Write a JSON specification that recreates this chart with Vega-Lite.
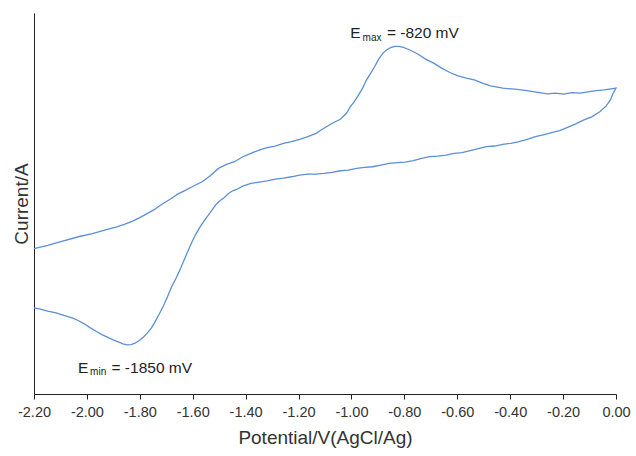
{
  "$schema": "https://vega.github.io/schema/vega-lite/v6.json",
  "width": 582,
  "height": 381,
  "autosize": {"type": "none"},
  "padding": {"left": 34, "top": 13, "right": 20, "bottom": 62},
  "background": "white",
  "config": {
    "view": {"stroke": null},
    "font": "Liberation Sans",
    "axis": {"grid": false, "domainColor": "#222222", "tickColor": "#222222", "labelColor": "#333333", "titleColor": "#333333", "titleFontWeight": "normal", "labelFont": "Liberation Sans", "titleFont": "Liberation Sans"}
  },
  "datasets": {
    "cv": [
      {"n": 1, "E": -2.200, "I": 43.5}, {"n": 2, "E": -2.148, "I": 44.5}, {"n": 3, "E": -2.102, "I": 45.5}, {"n": 4, "E": -2.025, "I": 47.2},
      {"n": 5, "E": -1.979, "I": 48.0}, {"n": 6, "E": -1.933, "I": 49.0}, {"n": 7, "E": -1.887, "I": 50.0}, {"n": 8, "E": -1.856, "I": 50.8},
      {"n": 9, "E": -1.825, "I": 51.8}, {"n": 10, "E": -1.795, "I": 53.0}, {"n": 11, "E": -1.749, "I": 55.0}, {"n": 12, "E": -1.718, "I": 56.7},
      {"n": 13, "E": -1.687, "I": 58.2}, {"n": 14, "E": -1.657, "I": 59.8}, {"n": 15, "E": -1.626, "I": 61.0}, {"n": 16, "E": -1.595, "I": 62.3},
      {"n": 17, "E": -1.564, "I": 63.5}, {"n": 18, "E": -1.534, "I": 65.3}, {"n": 19, "E": -1.503, "I": 67.5}, {"n": 20, "E": -1.472, "I": 68.7},
      {"n": 21, "E": -1.442, "I": 69.5}, {"n": 22, "E": -1.411, "I": 71.0}, {"n": 23, "E": -1.380, "I": 72.0}, {"n": 24, "E": -1.349, "I": 73.0},
      {"n": 25, "E": -1.319, "I": 73.7}, {"n": 26, "E": -1.288, "I": 74.2}, {"n": 27, "E": -1.257, "I": 75.0}, {"n": 28, "E": -1.227, "I": 75.5},
      {"n": 29, "E": -1.196, "I": 76.2}, {"n": 30, "E": -1.165, "I": 77.0}, {"n": 31, "E": -1.134, "I": 78.0}, {"n": 32, "E": -1.104, "I": 79.5},
      {"n": 33, "E": -1.073, "I": 81.0}, {"n": 34, "E": -1.042, "I": 82.2}, {"n": 35, "E": -1.019, "I": 84.0}, {"n": 36, "E": -1.004, "I": 86.0},
      {"n": 37, "E": -0.989, "I": 87.5}, {"n": 38, "E": -0.973, "I": 89.5}, {"n": 39, "E": -0.958, "I": 91.5}, {"n": 40, "E": -0.943, "I": 94.0},
      {"n": 41, "E": -0.927, "I": 96.0}, {"n": 42, "E": -0.912, "I": 98.0}, {"n": 43, "E": -0.897, "I": 100.2}, {"n": 44, "E": -0.881, "I": 102.0},
      {"n": 45, "E": -0.866, "I": 103.0}, {"n": 46, "E": -0.850, "I": 103.7}, {"n": 47, "E": -0.835, "I": 104.0}, {"n": 48, "E": -0.820, "I": 104.0},
      {"n": 49, "E": -0.804, "I": 103.7}, {"n": 50, "E": -0.781, "I": 103.0}, {"n": 51, "E": -0.751, "I": 101.8}, {"n": 52, "E": -0.720, "I": 100.2},
      {"n": 53, "E": -0.689, "I": 99.0}, {"n": 54, "E": -0.659, "I": 97.5}, {"n": 55, "E": -0.628, "I": 96.2}, {"n": 56, "E": -0.597, "I": 95.2},
      {"n": 57, "E": -0.566, "I": 94.5}, {"n": 58, "E": -0.536, "I": 94.0}, {"n": 59, "E": -0.505, "I": 93.0}, {"n": 60, "E": -0.474, "I": 92.2},
      {"n": 61, "E": -0.428, "I": 91.5}, {"n": 62, "E": -0.382, "I": 91.2}, {"n": 63, "E": -0.336, "I": 90.8}, {"n": 64, "E": -0.290, "I": 90.2},
      {"n": 65, "E": -0.259, "I": 89.8}, {"n": 66, "E": -0.229, "I": 90.0}, {"n": 67, "E": -0.198, "I": 89.7}, {"n": 68, "E": -0.167, "I": 90.2},
      {"n": 69, "E": -0.137, "I": 90.0}, {"n": 70, "E": -0.106, "I": 90.4}, {"n": 71, "E": -0.075, "I": 90.8}, {"n": 72, "E": -0.044, "I": 91.0},
      {"n": 73, "E": 0.000, "I": 91.5},
      {"n": 74, "E": -0.011, "I": 90.0}, {"n": 75, "E": -0.021, "I": 88.0}, {"n": 76, "E": -0.037, "I": 86.2}, {"n": 77, "E": -0.060, "I": 84.5},
      {"n": 78, "E": -0.090, "I": 83.0}, {"n": 79, "E": -0.121, "I": 82.0}, {"n": 80, "E": -0.152, "I": 80.8}, {"n": 81, "E": -0.183, "I": 79.8},
      {"n": 82, "E": -0.213, "I": 78.8}, {"n": 83, "E": -0.244, "I": 78.2}, {"n": 84, "E": -0.275, "I": 77.5}, {"n": 85, "E": -0.305, "I": 77.0},
      {"n": 86, "E": -0.336, "I": 76.2}, {"n": 87, "E": -0.367, "I": 75.5}, {"n": 88, "E": -0.397, "I": 75.0}, {"n": 89, "E": -0.428, "I": 74.7},
      {"n": 90, "E": -0.459, "I": 74.2}, {"n": 91, "E": -0.490, "I": 74.0}, {"n": 92, "E": -0.520, "I": 73.4}, {"n": 93, "E": -0.551, "I": 72.8},
      {"n": 94, "E": -0.582, "I": 72.2}, {"n": 95, "E": -0.612, "I": 72.0}, {"n": 96, "E": -0.643, "I": 71.5}, {"n": 97, "E": -0.674, "I": 71.2},
      {"n": 98, "E": -0.704, "I": 71.0}, {"n": 99, "E": -0.735, "I": 70.5}, {"n": 100, "E": -0.766, "I": 69.8}, {"n": 101, "E": -0.797, "I": 69.4},
      {"n": 102, "E": -0.827, "I": 69.2}, {"n": 103, "E": -0.858, "I": 69.0}, {"n": 104, "E": -0.889, "I": 68.5}, {"n": 105, "E": -0.920, "I": 68.0},
      {"n": 106, "E": -0.950, "I": 67.8}, {"n": 107, "E": -0.981, "I": 67.5}, {"n": 108, "E": -1.012, "I": 67.0}, {"n": 109, "E": -1.042, "I": 66.8},
      {"n": 110, "E": -1.073, "I": 66.3}, {"n": 111, "E": -1.104, "I": 66.0}, {"n": 112, "E": -1.134, "I": 65.8}, {"n": 113, "E": -1.165, "I": 65.8},
      {"n": 114, "E": -1.196, "I": 65.5}, {"n": 115, "E": -1.227, "I": 65.0}, {"n": 116, "E": -1.257, "I": 64.6}, {"n": 117, "E": -1.288, "I": 64.3},
      {"n": 118, "E": -1.319, "I": 63.8}, {"n": 119, "E": -1.349, "I": 63.4}, {"n": 120, "E": -1.380, "I": 63.0}, {"n": 121, "E": -1.411, "I": 62.2},
      {"n": 122, "E": -1.434, "I": 61.2}, {"n": 123, "E": -1.449, "I": 60.8}, {"n": 124, "E": -1.465, "I": 60.0}, {"n": 125, "E": -1.480, "I": 58.8},
      {"n": 126, "E": -1.495, "I": 58.0}, {"n": 127, "E": -1.511, "I": 56.8}, {"n": 128, "E": -1.526, "I": 55.2}, {"n": 129, "E": -1.541, "I": 53.5},
      {"n": 130, "E": -1.557, "I": 51.8}, {"n": 131, "E": -1.572, "I": 50.0}, {"n": 132, "E": -1.587, "I": 48.0}, {"n": 133, "E": -1.603, "I": 45.5},
      {"n": 134, "E": -1.618, "I": 42.8}, {"n": 135, "E": -1.633, "I": 40.0}, {"n": 136, "E": -1.649, "I": 37.0}, {"n": 137, "E": -1.664, "I": 34.5},
      {"n": 138, "E": -1.680, "I": 32.0}, {"n": 139, "E": -1.695, "I": 29.2}, {"n": 140, "E": -1.710, "I": 26.5}, {"n": 141, "E": -1.726, "I": 24.0},
      {"n": 142, "E": -1.741, "I": 21.8}, {"n": 143, "E": -1.756, "I": 19.8}, {"n": 144, "E": -1.772, "I": 18.2}, {"n": 145, "E": -1.787, "I": 17.0},
      {"n": 146, "E": -1.802, "I": 16.0}, {"n": 147, "E": -1.818, "I": 15.2}, {"n": 148, "E": -1.833, "I": 14.8}, {"n": 149, "E": -1.848, "I": 14.7},
      {"n": 150, "E": -1.864, "I": 15.0}, {"n": 151, "E": -1.879, "I": 15.5}, {"n": 152, "E": -1.894, "I": 16.0}, {"n": 153, "E": -1.917, "I": 16.8},
      {"n": 154, "E": -1.941, "I": 17.7}, {"n": 155, "E": -1.964, "I": 18.7}, {"n": 156, "E": -1.987, "I": 19.8}, {"n": 157, "E": -2.010, "I": 21.0},
      {"n": 158, "E": -2.033, "I": 22.0}, {"n": 159, "E": -2.056, "I": 22.8}, {"n": 160, "E": -2.087, "I": 23.5}, {"n": 161, "E": -2.117, "I": 24.3},
      {"n": 162, "E": -2.148, "I": 24.8}, {"n": 163, "E": -2.179, "I": 25.5}, {"n": 164, "E": -2.200, "I": 25.8}
    ],
    "big": [
      {"E": -1.005, "I": 106.4, "t": "E"},
      {"E": -0.866, "I": 106.4, "t": "= -820 mV"},
      {"E": -2.034, "I": 6.3, "t": "E"},
      {"E": -1.907, "I": 6.3, "t": "= -1850 mV"}
    ],
    "sub": [
      {"E": -0.958, "I": 105.7, "t": "max"},
      {"E": -1.988, "I": 5.6, "t": "min"}
    ]
  },
  "layer": [
    {
      "data": {"name": "cv"},
      "mark": {"type": "line", "color": "#5b8fd6", "strokeWidth": 1.3},
      "encoding": {
        "x": {"field": "E", "type": "quantitative",
              "scale": {"domain": [-2.2, 0], "nice": false, "zero": false},
              "axis": {"values": [-2.2, -2.0, -1.8, -1.6, -1.4, -1.2, -1.0, -0.8, -0.6, -0.4, -0.2, 0],
                       "labelExpr": "replace(format(datum.value, '.2f'), '\u2212', '-')",
                       "labelFontSize": 14.5, "labelPadding": 6, "labelFlush": false, "labelOverlap": false,
                       "tickSize": 5, "title": "Potential/V(AgCl/Ag)", "titleFontSize": 19, "titlePadding": 10}},
        "y": {"field": "I", "type": "quantitative",
              "scale": {"domain": [0, 114], "nice": false, "zero": false},
              "axis": {"ticks": false, "labels": false, "title": "Current/A", "titleFontSize": 19, "titlePadding": 3}},
        "order": {"field": "n", "type": "quantitative"}
      }
    },
    {
      "data": {"name": "big"},
      "mark": {"type": "text", "align": "left", "baseline": "alphabetic", "fontSize": 15.5, "color": "#222222"},
      "encoding": {
        "x": {"field": "E", "type": "quantitative"},
        "y": {"field": "I", "type": "quantitative"},
        "text": {"field": "t"}
      }
    },
    {
      "data": {"name": "sub"},
      "mark": {"type": "text", "align": "left", "baseline": "alphabetic", "fontSize": 10, "color": "#222222"},
      "encoding": {
        "x": {"field": "E", "type": "quantitative"},
        "y": {"field": "I", "type": "quantitative"},
        "text": {"field": "t"}
      }
    }
  ]
}
